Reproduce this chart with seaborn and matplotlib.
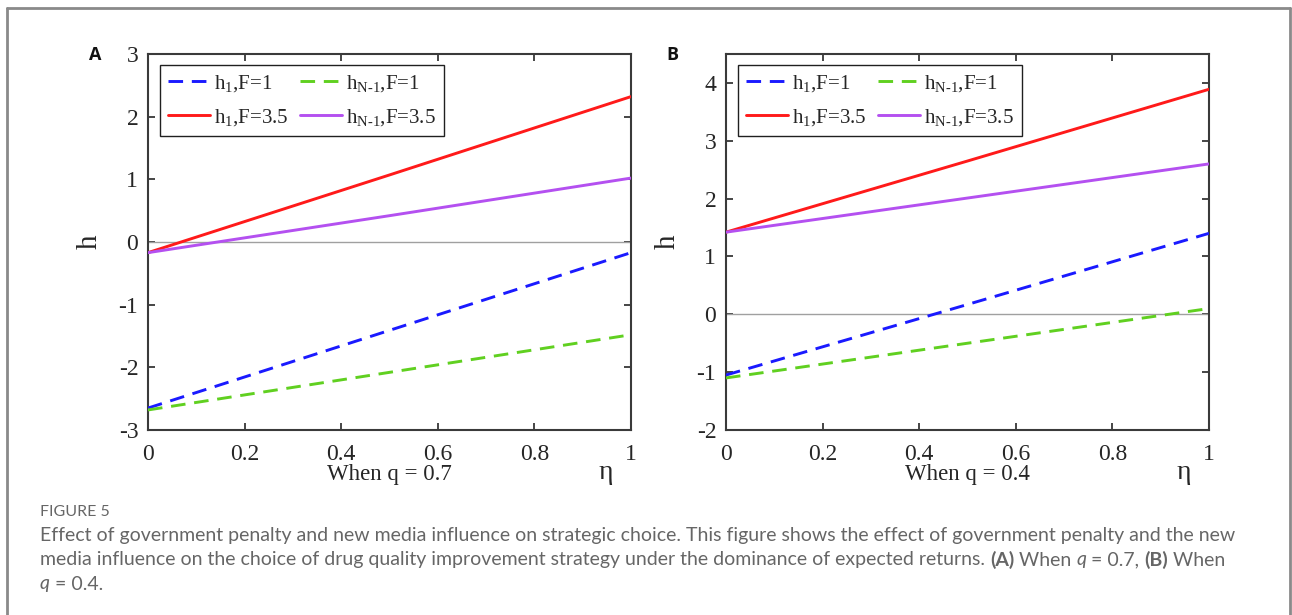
import matplotlib
matplotlib.use("Agg")
import matplotlib.pyplot as plt
import seaborn as sns
import pandas as pd
from matplotlib.lines import Line2D

# ---------------- data ----------------
eta = [0.0, 0.5, 1.0]
# Panel A (q = 0.7)
A_h1_F1 = [-2.65, -1.41, -0.17]
A_hN1_F1 = [-2.68, -2.08, -1.48]
A_h1_F35 = [-0.17, 1.07, 2.32]
A_hN1_F35 = [-0.17, 0.42, 1.02]
# Panel B (q = 0.4)
B_h1_F1 = [-1.05, 0.17, 1.40]
B_hN1_F1 = [-1.10, -0.50, 0.10]
B_h1_F35 = [1.42, 2.65, 3.89]
B_hN1_F35 = [1.42, 2.01, 2.60]

labels = [r'$\mathregular{h_{1}}$,F=1', r'$\mathregular{h_{1}}$,F=3.5',
          r'$\mathregular{h_{N\text{-}1}}$,F=1', r'$\mathregular{h_{N\text{-}1}}$,F=3.5']
colors = ['#1a1aff', '#ff1a1a', '#60d020', '#b450f0']
xticks = [0, 0.2, 0.4, 0.6, 0.8, 1]
xticklabels = ['0', '0.2', '0.4', '0.6', '0.8', '1']
A_yticks = [-3, -2, -1, 0, 1, 2, 3]
B_yticks = [-2, -1, 0, 1, 2, 3, 4]
panel_letters = ['A', 'B']
q_texts = ['When q = 0.7', 'When q = 0.4']
caption_title = 'FIGURE 5'

sns.set_theme(style='ticks')
plt.rcParams['font.family'] = ['Liberation Serif', 'DejaVu Serif']
plt.rcParams['mathtext.fontset'] = 'custom'
plt.rcParams['mathtext.rm'] = 'Liberation Serif'
plt.rcParams['mathtext.it'] = 'Liberation Serif:italic'

fig = plt.figure(figsize=(12.92, 6.15), dpi=100)
W, H = 1292, 615

def ax_rect(l, t, r, b):
    return [l / W, 1 - b / H, (r - l) / W, (b - t) / H]

axA = fig.add_axes(ax_rect(148, 54, 631, 430))
axB = fig.add_axes(ax_rect(726, 54, 1209, 430))

panels = [
    (axA, [A_h1_F1, A_h1_F35, A_hN1_F1, A_hN1_F35], (-3, 3), A_yticks),
    (axB, [B_h1_F1, B_h1_F35, B_hN1_F1, B_hN1_F35], (-2, 4.5), B_yticks),
]
styles = [(0, (5, 3)), '-', (0, (5, 3)), '-']
txt_c = '#262626'

for i, (ax, series, ylim, yticks) in enumerate(panels):
    ax.axhline(0, color='#a0a0a0', lw=1.0, zorder=1)
    for s, lab, c, ls in zip(series, labels, colors, styles):
        df = pd.DataFrame({'eta': eta, 'h': s})
        sns.lineplot(data=df, x='eta', y='h', ax=ax, color=c, linestyle=ls,
                     lw=2.1, label=lab, zorder=3)
    ax.set_xlim(0, 1)
    ax.set_ylim(*ylim)
    ax.set_xticks(xticks)
    ax.set_xticklabels(xticklabels)
    ax.set_yticks(yticks)
    ax.set_yticklabels([str(t) for t in yticks])
    ax.tick_params(direction='in', length=5, width=1.2, top=True, right=True,
                   labelsize=17, colors=txt_c)
    ax.tick_params(axis='x', pad=10)
    ax.tick_params(axis='y', pad=7)
    for sp in ax.spines.values():
        sp.set_visible(True)
        sp.set_color('#3a3a3a')
        sp.set_linewidth(1.5)
    ax.set_xlabel('')
    ax.set_ylabel('h', fontsize=21, color=txt_c)
    ax.yaxis.set_label_coords(-0.093, 0.5)
    ax.text(0.5, -0.118, q_texts[i], transform=ax.transAxes, ha='center',
            va='center', fontsize=16.5, color=txt_c)
    ax.text(0.948, -0.112, 'η', transform=ax.transAxes, ha='center',
            va='center', fontsize=20, color=txt_c)
    leg = ax.legend(loc='upper left', ncol=2, fontsize=15, frameon=True,
                    fancybox=False, edgecolor='#202020', framealpha=1,
                    bbox_to_anchor=(12 / 483, 1 - 11 / 376), borderaxespad=0,
                    handlelength=2.0, handletextpad=0.2,
                    columnspacing=0.55, labelspacing=0.6, borderpad=0.4)
    leg.get_frame().set_linewidth(1.0)
    for t in leg.get_texts():
        t.set_color(txt_c)

# panel letters
fig.text(95 / W, 1 - 55 / H, 'A', fontsize=13, fontweight='bold',
         family='Open Sans', ha='center', va='center', color='#111111')
fig.text(672 / W, 1 - 55 / H, 'B', fontsize=13, fontweight='bold',
         family='Open Sans', ha='center', va='center', color='#111111')

# outer page frame (top, left, right)
frame_c = '#8a8a8a'
fig.add_artist(Line2D([7 / W, 7 / W], [0, 1 - 8 / H], color=frame_c, lw=2))
fig.add_artist(Line2D([7 / W, 1290 / W], [1 - 8 / H, 1 - 8 / H], color=frame_c, lw=2))
fig.add_artist(Line2D([1290 / W, 1290 / W], [0, 1 - 8 / H], color=frame_c, lw=2))

# caption
cap_color = '#666666'
cap_font = 'Lato'
cap_size = 14.0
cap_x = 40
fig.text(cap_x / W, 1 - 512 / H, caption_title, fontsize=11.5, family=cap_font,
         color=cap_color, va='center', ha='left')

caption_lines = [
    [("Effect of government penalty and new media influence on strategic choice. This figure shows the effect of government penalty and the new", 'normal', 'normal')],
    [("media influence on the choice of drug quality improvement strategy under the dominance of expected returns. ", 'normal', 'normal'),
     ("(A)", 'bold', 'normal'), (" When ", 'normal', 'normal'), ("q", 'normal', 'italic'),
     (" = 0.7, ", 'normal', 'normal'), ("(B)", 'bold', 'normal'), (" When", 'normal', 'normal')],
    [("q", 'normal', 'italic'), (" = 0.4.", 'normal', 'normal')],
]
caption_y = [536, 560, 584]

fig.canvas.draw()
renderer = fig.canvas.get_renderer()

def text_width(s, weight, style):
    # measure with guards so spaces count
    t = fig.text(0, 0, '|' + s + '|', fontsize=cap_size, family=cap_font,
                 fontweight=weight, fontstyle=style)
    g = fig.text(0, 0, '||', fontsize=cap_size, family=cap_font,
                 fontweight=weight, fontstyle=style)
    w = t.get_window_extent(renderer).width - g.get_window_extent(renderer).width
    t.remove(); g.remove()
    return w

for pieces, yy in zip(caption_lines, caption_y):
    x = float(cap_x)
    for s, weight, style in pieces:
        fig.text(x / W, 1 - yy / H, s, fontsize=cap_size, family=cap_font,
                 fontweight=weight, fontstyle=style, color=cap_color,
                 va='center', ha='left')
        x += text_width(s, weight, style)

fig.savefig('out.png', dpi=100)
